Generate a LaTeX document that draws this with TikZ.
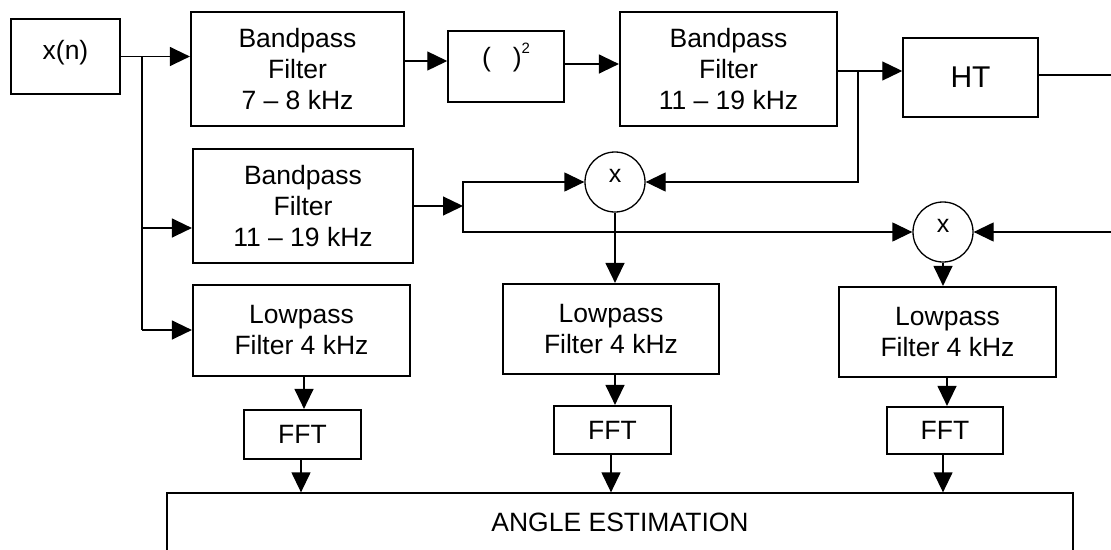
\documentclass[tikz,border=0pt]{standalone}
\usepackage{fontspec}
\setmainfont{Liberation Sans}
\usetikzlibrary{arrows.meta}
\begin{document}
\begin{tikzpicture}[x=1pt,y=-1pt,
  txt/.style={font=\fontsize{26.5}{31}\selectfont},
  blk/.style={draw,line width=2.2pt,inner sep=0pt,align=center,txt},
  thinblk/.style={draw,line width=1.5pt,inner sep=0pt,align=center,txt},
  mult/.style={draw,circle,line width=1.3pt,inner sep=0pt,minimum size=60pt,font=\fontsize{25}{25}\selectfont,text depth=12pt},
  wire/.style={line width=1.3pt},
  arr/.style={wire,-{Triangle[length=20pt,width=19pt]}}]
\useasboundingbox (0,0) rectangle (1111,549);
\clip (0,0) rectangle (1111,549);
\fill[white] (0,0) rectangle (1111,549);
% blocks
\node[blk,minimum width=109pt,minimum height=75pt,text depth=14pt] (xn) at (65.5,56.5) {x(n)};
\node[blk,minimum width=213pt,minimum height=114pt] (bp1) at (297.5,69) {Bandpass\\Filter\\7 -- 8 kHz};
\node[thinblk,minimum width=116pt,minimum height=71pt,text depth=24pt] (sq) at (506,66.5) {(\hspace{22pt})\raisebox{13pt}{\fontsize{15}{15}\selectfont 2}};
\node[blk,minimum width=217pt,minimum height=114pt] (bp3) at (728.5,69) {Bandpass\\Filter\\11 -- 19 kHz};
\node[thinblk,minimum width=135pt,minimum height=79pt,font=\fontsize{30}{30}\selectfont] (ht) at (970.5,77.5) {HT};
\node[blk,minimum width=220pt,minimum height=114pt] (bp2) at (303,206) {Bandpass\\Filter\\11 -- 19 kHz};
\node[mult] (m1) at (615,182) {x};
\node[mult] (m2) at (943,232) {x};
\node[blk,minimum width=217pt,minimum height=91pt] (lp1) at (301.5,330.5) {Lowpass\\Filter 4 kHz};
\node[blk,minimum width=216pt,minimum height=90pt] (lp2) at (611,329) {Lowpass\\Filter 4 kHz};
\node[blk,minimum width=217pt,minimum height=90pt] (lp3) at (947.5,332) {Lowpass\\Filter 4 kHz};
\node[blk,minimum width=117pt,minimum height=49pt] (fft1) at (302.5,434.5) {FFT};
\node[blk,minimum width=117pt,minimum height=48pt] (fft2) at (612.5,430) {FFT};
\node[blk,minimum width=116pt,minimum height=47pt] (fft3) at (945,430.5) {FFT};
\node[draw,line width=1.3pt,inner sep=0pt,txt,minimum width=906pt,minimum height=58pt] (angle) at (620,522) {ANGLE ESTIMATION};
% helper coordinates
\coordinate (ja) at (142,56.5);
\coordinate (jb) at (142,228);
\coordinate (jc) at (142,330);
\coordinate (c1) at (0,61);
\coordinate (c2) at (0,64);
\coordinate (jd) at (858,71);
\coordinate (c3) at (1111,75);
\coordinate (je) at (463,206);
\coordinate (c4) at (1111,232);
\coordinate (x1) at (304,0);
\coordinate (x2) at (301,0);
\coordinate (x3) at (615,0);
\coordinate (x4) at (611,0);
\coordinate (x5) at (947,0);
\coordinate (x6) at (943,0);
% connectors
\draw[arr] (xn.east) -- (bp1.west |- xn.east);
\draw[wire] (ja) -- (jc);
\draw[arr] (jb) -- (bp2.west |- jb);
\draw[arr] (jc) -- (lp1.west |- jc);
\draw[arr] (bp1.east |- c1) -- (sq.west |- c1);
\draw[arr] (sq.east |- c2) -- (bp3.west |- c2);
\draw[wire] (bp3.east |- jd) -- (jd);
\draw[arr] (jd) -- (ht.west |- jd);
\draw[wire] (ht.east |- c3) -- (c3);
\draw[arr] (jd) |- (m1.east);
\draw[arr] (bp2.east) -- (je);
\draw[arr] (je) |- (m1.west);
\draw[arr] (je) |- (m2.west);
\draw[arr] (c4) -- (m2.east);
\draw[arr] (m1.south) -- (m1.south |- lp2.north);
\draw[arr] (m2.south) -- (m2.south |- lp3.north);
\draw[arr] (lp1.south -| x1) -- (fft1.north -| x1);
\draw[arr] (fft1.south -| x2) -- (angle.north -| x2);
\draw[arr] (lp2.south -| x3) -- (fft2.north -| x3);
\draw[arr] (fft2.south -| x4) -- (angle.north -| x4);
\draw[arr] (lp3.south -| x5) -- (fft3.north -| x5);
\draw[arr] (fft3.south -| x6) -- (angle.north -| x6);
\end{tikzpicture}
\end{document}
